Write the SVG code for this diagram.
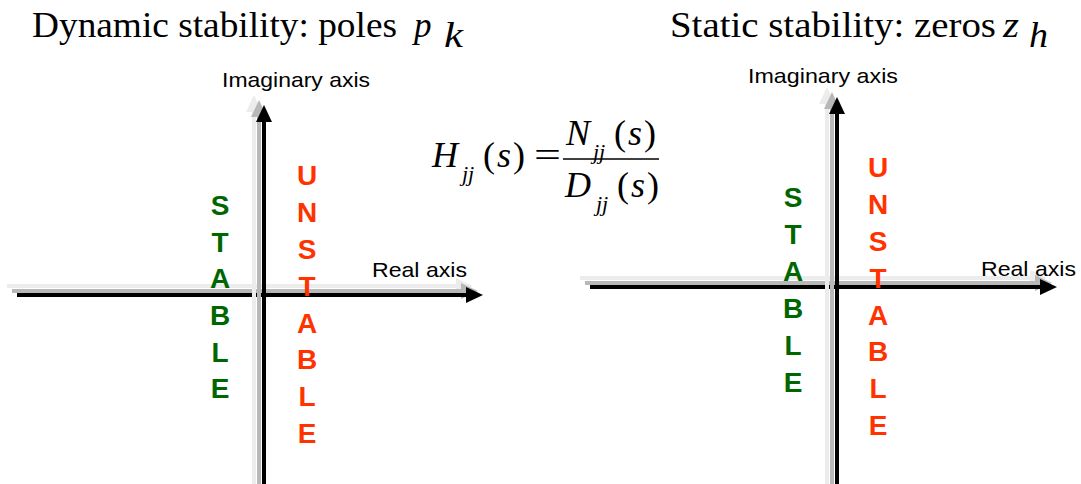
<svg xmlns="http://www.w3.org/2000/svg" width="1081" height="484" viewBox="0 0 1081 484">
<style>
.title{font-family:"Liberation Serif","Times New Roman",serif;font-size:35px;fill:#000}
.it{font-style:italic}
.lbl{font-family:"Liberation Sans",Arial,sans-serif;font-size:21px;fill:#000}
.st{font-family:"Liberation Sans",Arial,sans-serif;font-size:28px;font-weight:bold;fill:#006600;text-anchor:middle}
.un{font-family:"Liberation Sans",Arial,sans-serif;font-size:28px;font-weight:bold;fill:#ff3300;text-anchor:middle}
.eq{font-family:"Liberation Serif","Times New Roman",serif;font-size:36px;fill:#000}
.sub{font-size:22px}
.s1{stroke:#ececec;stroke-width:4}
.s2{stroke:#b8b8b8;stroke-width:4}
.s3{stroke:#000;stroke-width:4}
</style>
<rect width="1081" height="484" fill="#fff"/>
<g id="title-left">
<text class="title" x="32" y="37" textLength="365" lengthAdjust="spacingAndGlyphs">Dynamic stability: poles</text>
<text class="title it" x="414" y="37" font-size="38">p</text>
<text class="title it" x="444" y="47" font-size="25" textLength="19" lengthAdjust="spacingAndGlyphs">k</text>
</g>
<g id="title-right">
<text class="title" x="670" y="37" textLength="326" lengthAdjust="spacingAndGlyphs">Static stability: zeros</text>
<text class="title it" x="1003" y="37" font-size="36" textLength="16" lengthAdjust="spacingAndGlyphs">z</text>
<text class="title it" x="1029" y="47" font-size="25" textLength="19" lengthAdjust="spacingAndGlyphs">h</text>
</g>
<g id="connectors">
<g id="axis-left-real">
<line class="s1" x1="7" y1="286" x2="458" y2="286"/><polygon points="473,286 456,278 456,294" fill="#ececec"/>
<line class="s2" x1="12" y1="291" x2="463" y2="291"/><polygon points="478,291 461,283 461,299" fill="#b8b8b8"/>
<line class="s3" x1="17" y1="295" x2="468" y2="295"/><polygon points="483,295 466,287 466,303" fill="#000"/>
</g>
<g id="axis-left-imag">
<line class="s1" x1="254" y1="484" x2="254" y2="110"/><polygon points="254,95 246,112 262,112" fill="#ececec"/>
<line class="s2" x1="259" y1="484" x2="259" y2="115"/><polygon points="259,100 251,117 267,117" fill="#b8b8b8"/>
<line class="s3" x1="264" y1="484" x2="264" y2="120"/><polygon points="264,105 256,122 272,122" fill="#000"/>
</g>
<g id="axis-right-real">
<line class="s1" x1="580" y1="278" x2="1032" y2="278"/><polygon points="1047,278 1030,270 1030,286" fill="#ececec"/>
<line class="s2" x1="585" y1="283" x2="1037" y2="283"/><polygon points="1052,283 1035,275 1035,291" fill="#b8b8b8"/>
<line class="s3" x1="590" y1="287" x2="1042" y2="287"/><polygon points="1057,287 1040,279 1040,295" fill="#000"/>
</g>
<g id="axis-right-imag">
<line class="s1" x1="827" y1="484" x2="827" y2="102"/><polygon points="827,87 819,104 835,104" fill="#ececec"/>
<line class="s2" x1="832" y1="484" x2="832" y2="107"/><polygon points="832,92 824,109 840,109" fill="#b8b8b8"/>
<line class="s3" x1="837" y1="484" x2="837" y2="112"/><polygon points="837,97 829,114 845,114" fill="#000"/>
</g>
</g>
<g id="labels-left">
<text class="lbl" x="222" y="87" textLength="148" lengthAdjust="spacingAndGlyphs">Imaginary axis</text>
<text class="lbl" x="372" y="277" textLength="95" lengthAdjust="spacingAndGlyphs">Real axis</text>
</g>
<g id="labels-right">
<text class="lbl" x="748" y="83" textLength="150" lengthAdjust="spacingAndGlyphs">Imaginary axis</text>
<text class="lbl" x="981" y="276" textLength="95" lengthAdjust="spacingAndGlyphs">Real axis</text>
</g>
<g id="stable-left">
<text class="st" x="220" y="215">S</text><text class="st" x="220" y="252">T</text><text class="st" x="220" y="288">A</text><text class="st" x="220" y="325">B</text><text class="st" x="220" y="362">L</text><text class="st" x="220" y="398">E</text>
</g>
<g id="unstable-left">
<text class="un" x="307" y="185">U</text><text class="un" x="307" y="222">N</text><text class="un" x="307" y="259">S</text><text class="un" x="307" y="296">T</text><text class="un" x="307" y="333">A</text><text class="un" x="307" y="369">B</text><text class="un" x="307" y="406">L</text><text class="un" x="307" y="443">E</text>
</g>
<g id="stable-right">
<text class="st" x="793" y="207">S</text><text class="st" x="793" y="244">T</text><text class="st" x="793" y="281">A</text><text class="st" x="793" y="318">B</text><text class="st" x="793" y="355">L</text><text class="st" x="793" y="392">E</text>
</g>
<g id="unstable-right">
<text class="un" x="878" y="177">U</text><text class="un" x="878" y="214">N</text><text class="un" x="878" y="251">S</text><text class="un" x="878" y="288">T</text><text class="un" x="878" y="325">A</text><text class="un" x="878" y="361">B</text><text class="un" x="878" y="398">L</text><text class="un" x="878" y="435">E</text>
</g>
<g id="equation">
<text class="eq it" x="432" y="167">H</text>
<text class="eq it sub" x="462" y="181">jj</text>
<text class="eq" x="483" y="167">(</text><text class="eq it" x="497" y="167">s</text><text class="eq" x="513" y="167">)</text>
<text class="eq" x="534" y="167" textLength="27" lengthAdjust="spacingAndGlyphs">=</text>
<line x1="563" y1="159" x2="659" y2="159" stroke="#000" stroke-width="1.5"/>
<text class="eq it" x="566" y="145">N</text>
<text class="eq it sub" x="593" y="159">jj</text>
<text class="eq" x="614" y="145">(</text><text class="eq it" x="628" y="145">s</text><text class="eq" x="644" y="145">)</text>
<text class="eq it" x="565" y="197">D</text>
<text class="eq it sub" x="596" y="211">jj</text>
<text class="eq" x="617" y="197">(</text><text class="eq it" x="631" y="197">s</text><text class="eq" x="647" y="197">)</text>
</g>
</svg>
